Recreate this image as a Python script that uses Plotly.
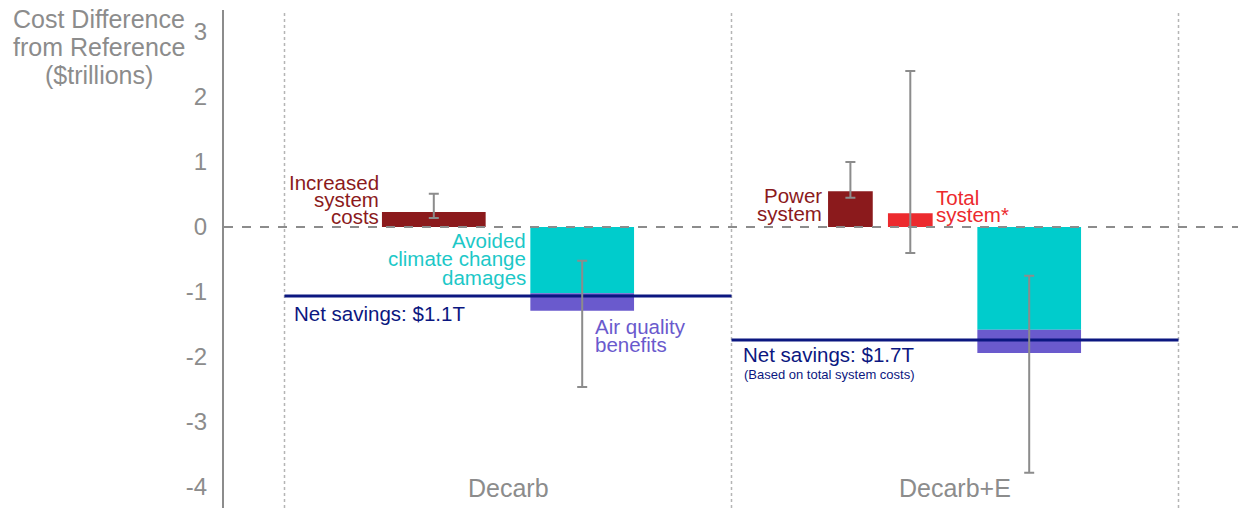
import plotly.graph_objects as go

# ---------------- data ----------------
categories = ["Decarb", "Decarb+E"]
y_ticks = [-4, -3, -2, -1, 0, 1, 2, 3]

# Decarb: increased system costs
increased_costs = [0.23]
increased_costs_low = [0.14]
increased_costs_high = [0.51]

# Decarb+E: power system and total system costs
power_system = [0.55]
power_system_low = [0.45]
power_system_high = [1.00]
total_system = [0.21]
total_system_low = [-0.40]
total_system_high = [2.40]

# benefits (negative = savings), both scenarios
climate_benefits = [-1.02, -1.58]
air_quality = [-0.27, -0.36]
benefits_low = [-2.46, -3.78]
benefits_high = [-0.52, -0.75]

net_savings = [-1.06, -1.74]
net_labels = ["Net savings: $1.1T", "Net savings: $1.7T"]

# ---------------- layout constants ----------------
cat_pos = [0, 1]
OFF_COST = -0.166
OFF_POWER = -0.234
OFF_TOTAL = -0.100
OFF_BEN = 0.166
W_WIDE = 0.232
W_NARROW = 0.100

DARKRED = "#8B1A1C"
RED = "#EC2A2E"
CYAN = "#00CCCC"
PURPLE = "#6A5ACD"
NAVY = "#0B1780"
GREY = "#8C8C8C"
FONT = "Liberation Sans, Arial, sans-serif"

fig = go.Figure()

# cost bars
fig.add_trace(go.Bar(x=[cat_pos[0] + OFF_COST], y=increased_costs, width=W_WIDE,
                     marker=dict(color=DARKRED, line=dict(width=0))))
fig.add_trace(go.Bar(x=[cat_pos[1] + OFF_POWER], y=power_system, width=W_NARROW,
                     marker=dict(color=DARKRED, line=dict(width=0))))
fig.add_trace(go.Bar(x=[cat_pos[1] + OFF_TOTAL], y=total_system, width=W_NARROW,
                     marker=dict(color=RED, line=dict(width=0))))

# benefit bars (stacked via base)
ben_x = [p + OFF_BEN for p in cat_pos]
fig.add_trace(go.Bar(x=ben_x, y=climate_benefits, width=W_WIDE,
                     marker=dict(color=CYAN, line=dict(width=0))))
fig.add_trace(go.Bar(x=ben_x, y=air_quality, base=climate_benefits, width=W_WIDE,
                     marker=dict(color=PURPLE, line=dict(width=0))))

# net savings lines
for p, v in zip(cat_pos, net_savings):
    fig.add_trace(go.Scatter(x=[p - 0.5, p + 0.5], y=[v, v], mode="lines",
                             line=dict(color=NAVY, width=3)))

# error bars
def add_err(xs, centers, lows, highs):
    fig.add_trace(go.Scatter(
        x=xs, y=centers, mode="markers", marker=dict(size=0.1, opacity=0),
        error_y=dict(type="data", symmetric=False,
                     array=[h - c for h, c in zip(highs, centers)],
                     arrayminus=[c - l for l, c in zip(lows, centers)],
                     color=GREY, thickness=2, width=5)))

add_err([cat_pos[0] + OFF_COST], increased_costs, increased_costs_low, increased_costs_high)
add_err([cat_pos[1] + OFF_POWER], power_system, power_system_low, power_system_high)
add_err([cat_pos[1] + OFF_TOTAL], total_system, total_system_low, total_system_high)
ben_tot = [c + a for c, a in zip(climate_benefits, air_quality)]
add_err(ben_x, ben_tot, benefits_low, benefits_high)

# shapes: dotted category separators, dashed zero line
shapes = []
for xv in [-0.5, 0.5, 1.5]:
    shapes.append(dict(type="line", xref="x", yref="paper", x0=xv, x1=xv, y0=0, y1=1,
                       line=dict(color="#B5B5B5", width=1.5, dash="dot"), layer="below"))
shapes.append(dict(type="line", xref="paper", yref="y", x0=0, x1=1, y0=0, y1=0,
                   line=dict(color=GREY, width=2, dash="dash"), layer="above"))

annotations = []


def add_lines(lines, x, y, color, size, xanchor, spacing):
    for i, t in enumerate(lines):
        annotations.append(dict(x=x, y=y, xref="x", yref="y", text=t, showarrow=False,
                                xanchor=xanchor, yanchor="middle", yshift=-i * spacing,
                                font=dict(family=FONT, size=size, color=color)))


def px2y(py):
    return (227 - py) / 65.0


def px2x(px):
    return (px - 508) / 447.0


LS = 20.5
add_lines(["Increased", "system", "costs"], px2x(381), px2y(182), DARKRED, LS, "right", 17)
add_lines(["Avoided", "climate change", "damages"], px2x(528), px2y(240), "#1CC8C8", LS, "right", 18.5)
add_lines(["Air quality", "benefits"], px2x(593), px2y(326), PURPLE, LS, "left", 18)
add_lines([net_labels[0]], px2x(292), px2y(313), NAVY, LS, "left", 18)
add_lines(["Power", "system"], px2x(824), px2y(195), DARKRED, LS, "right", 18)
add_lines(["Total", "system*"], px2x(934), px2y(197), RED, LS, "left", 17.5)
add_lines([net_labels[1]], px2x(741), px2y(354), NAVY, LS, "left", 18)
add_lines(["(Based on total system costs)"], px2x(742), px2y(374), NAVY, 13, "left", 14)

# category labels
for p, c in zip(cat_pos, categories):
    annotations.append(dict(x=p, y=px2y(488), xref="x", yref="y", text=c, showarrow=False,
                            xanchor="center", yanchor="middle",
                            font=dict(family=FONT, size=25, color=GREY)))

# y-axis title (pixel positions converted to paper coords)
for i, t in enumerate(["Cost Difference", "from Reference", "($trillions)"]):
    annotations.append(dict(x=(99 - 224) / (1238 - 224), y=1 - (19 + i * 28 - 10) / (508 - 10),
                            xref="paper", yref="paper", text=t,
                            showarrow=False, xanchor="center", yanchor="middle",
                            font=dict(family=FONT, size=25, color=GREY)))

fig.update_layout(
    width=1238, height=512,
    margin=dict(l=224, r=0, t=10, b=4),
    paper_bgcolor="white", plot_bgcolor="white",
    showlegend=False, barmode="overlay",
    shapes=shapes, annotations=annotations,
    xaxis=dict(range=[px2x(224), px2x(1238)], visible=False, showgrid=False, zeroline=False),
    yaxis=dict(range=[px2y(508), px2y(10)], tickmode="array", tickvals=y_ticks,
               ticktext=[str(v) for v in y_ticks], showgrid=False, zeroline=False,
               showline=True, linecolor=GREY, linewidth=2, ticks="",
               ticklabelstandoff=10,
               tickfont=dict(family=FONT, size=24, color=GREY)),
    font=dict(family=FONT),
)

fig.write_html("out.html")
